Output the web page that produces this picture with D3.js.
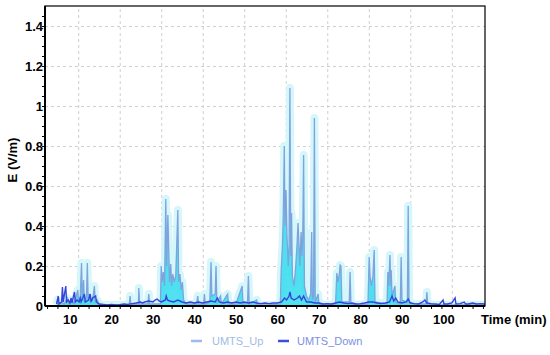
<!DOCTYPE html>
<html>
<head>
<meta charset="utf-8">
<script src="https://cdn.jsdelivr.net/npm/d3@7"></script>
<style>
  body { margin: 0; background: #fff; }
  text { font-family: Arial, "Liberation Sans", sans-serif; }
</style>
</head>
<body>
<div id="chart"></div>
<script>
// Chart data (time in min, field E in V/m)
var seriesNames = ["UMTS_Up", "UMTS_Down"];
var xTickValues = [10, 20, 30, 40, 50, 60, 70, 80, 90, 100];
var yTickValues = [0, 0.2, 0.4, 0.6, 0.8, 1, 1.2, 1.4];

var upData = [
  [4.8,0.01],[5.0,0.03],[5.3,0.01],[6.0,0.02],[6.6,0.01],[7.4,0.04],[7.8,0.01],[8.6,0.03],[9.0,0.01],
  [9.9,0.08],[10.1,0.02],[10.5,0.05],[10.8,0.215],[11.0,0.03],[11.3,0.13],[11.5,0.02],[12.0,0.05],
  [12.2,0.215],[12.4,0.03],[12.7,0.06],[13.0,0.02],[13.6,0.05],[13.9,0.1],[14.1,0.02],[14.6,0.03],[15.0,0.01],
  [16,0.005],[18,0.005],[20,0.005],[22.3,0.005],[22.5,0.05],[22.7,0.005],[24.5,0.01],[24.6,0.09],[24.8,0.01],
  [26.8,0.01],[27.0,0.06],[27.2,0.01],
  [29.8,0.01],[30.0,0.2],[30.2,0.12],[30.5,0.17],[30.8,0.1],[31.1,0.535],[31.3,0.2],[31.6,0.455],[31.8,0.29],
  [32.0,0.12],[32.3,0.21],[32.5,0.1],[32.8,0.16],[33.1,0.12],[33.5,0.15],[34.0,0.48],[34.2,0.12],[34.5,0.16],
  [34.8,0.08],[35.1,0.12],[35.4,0.03],[36,0.01],
  [38.5,0.01],[38.8,0.05],[39.0,0.01],[40.2,0.01],[40.4,0.06],[40.6,0.01],[41.7,0.02],[42.0,0.22],[42.2,0.05],
  [43.0,0.06],[43.2,0.2],[43.4,0.02],[44.3,0.05],[44.5,0.01],[46.0,0.06],[46.2,0.01],[48,0.01],[49.5,0.1],
  [49.7,0.01],[50.8,0.02],[51.0,0.15],[51.2,0.01],[53.0,0.03],[53.2,0.005],[56,0.005],
  [58.7,0.01],[58.9,0.18],[59.2,0.3],[59.4,0.45],[59.65,0.8],[59.8,0.4],[60.06,0.58],[60.3,0.35],[60.6,0.2],
  [60.8,0.3],[61.0,1.09],[61.2,0.25],[61.4,0.465],[61.6,0.15],[62.0,0.1],[62.4,0.2],[62.7,0.3],[62.95,0.415],
  [63.2,0.3],[63.4,0.2],[63.7,0.37],[63.9,0.25],[64.1,0.35],[64.3,0.755],[64.5,0.1],[65.0,0.05],[65.5,0.03],
  [66.0,0.06],[66.25,0.37],[66.4,0.03],[66.7,0.05],[66.9,0.94],[67.1,0.02],[67.8,0.06],[68.0,0.01],
  [70,0.005],[72.0,0.01],[72.3,0.165],[72.6,0.12],[72.9,0.16],[73.1,0.205],[73.3,0.2],[73.5,0.02],
  [75.3,0.02],[75.5,0.17],[75.7,0.01],[77,0.005],
  [79.8,0.01],[80.1,0.245],[80.3,0.15],[80.6,0.1],[81.0,0.15],[81.3,0.28],[81.5,0.02],
  [84.4,0.01],[84.6,0.17],[84.8,0.1],[85.1,0.255],[85.3,0.1],[85.4,0.18],[85.6,0.05],[86.0,0.08],[86.3,0.1],
  [86.5,0.02],[87.6,0.01],[87.8,0.245],[88.0,0.03],[89.3,0.02],[89.5,0.5],[89.7,0.02],[91,0.01],
  [93.8,0.01],[94.0,0.07],[94.2,0.01],[96,0.005],[100,0.005],[104,0.005],[108,0.005]
];

var downData = [
  [4.8,0.01],[5.2,0.05],[5.4,0.01],[6.0,0.02],[6.2,0.095],[6.4,0.02],[7.0,0.1],[7.2,0.02],[7.6,0.03],
  [8.0,0.015],[8.3,0.04],[8.5,0.015],[9.1,0.07],[9.3,0.02],[9.7,0.03],[10.2,0.02],[10.5,0.04],[10.7,0.02],
  [11.5,0.06],[11.7,0.02],[12.5,0.03],[12.9,0.06],[13.1,0.02],[13.5,0.04],[14.2,0.05],[14.4,0.02],[15,0.01],
  [16,0.008],[17,0.005],[18,0.008],[19,0.005],[20,0.006],[21,0.01],[22,0.008],[23,0.012],[24,0.015],
  [25,0.02],[25.5,0.015],[26,0.02],[27,0.025],[28,0.02],[28.5,0.03],[29,0.035],[29.5,0.025],[30,0.02],
  [30.5,0.025],[31,0.03],[31.2,0.05],[31.5,0.03],[32,0.025],[33,0.02],[34,0.03],[35,0.02],[36,0.015],
  [37,0.02],[38,0.015],[39,0.02],[40,0.015],[41,0.02],[42,0.025],[43,0.02],[43.5,0.04],[44,0.02],
  [45,0.015],[46,0.02],[47,0.015],[48,0.02],[49,0.015],[50,0.02],[51,0.015],[52,0.02],[53,0.015],
  [54,0.012],[55,0.015],[56,0.012],[57,0.015],[58,0.015],[59,0.02],[59.7,0.04],[60.2,0.03],[60.8,0.05],
  [61.0,0.07],[61.3,0.04],[62,0.03],[62.8,0.04],[63.3,0.05],[63.8,0.03],[64.3,0.05],[65,0.02],[66,0.02],
  [67,0.015],[68,0.015],[69,0.01],[70,0.012],[71,0.01],[72,0.015],[73,0.02],[74,0.015],[75,0.012],
  [76,0.015],[77,0.01],[78,0.012],[79,0.015],[80,0.02],[81,0.02],[82,0.015],[83,0.012],[84,0.015],
  [85,0.02],[85.6,0.05],[86,0.025],[86.5,0.04],[87,0.02],[88,0.015],[89,0.02],[89.5,0.035],[90,0.015],
  [91,0.012],[92,0.01],[93,0.02],[93.5,0.03],[94,0.015],[95,0.012],[96,0.01],[97,0.008],[97.9,0.03],
  [98.1,0.01],[99,0.01],[100,0.015],[100.8,0.04],[101,0.01],[102,0.012],[103,0.02],[103.3,0.01],
  [104,0.01],[105,0.015],[106,0.01],[107,0.012],[108,0.01]
];

// Building the chart area
var svgWidth = 550;
var svgHeight = 355;
var margin = { top: 6, right: 65, bottom: 49, left: 45 };
var width = svgWidth - margin.left - margin.right;
var height = svgHeight - margin.top - margin.bottom;

var svg = d3.select("#chart")
  .append("svg")
  .attr("width", svgWidth)
  .attr("height", svgHeight);

var chartGroup = svg.append("g")
  .attr("transform", `translate(${margin.left}, ${margin.top})`);

// Scales
var xScale = d3.scaleLinear().domain([2, 108]).range([0, width]);
var yScale = d3.scaleLinear().domain([0, 1.5]).range([height, 0]);

// Grid lines
chartGroup.append("g")
  .attr("transform", `translate(0, ${height})`)
  .call(d3.axisBottom(xScale).tickValues(xTickValues).tickSize(-height).tickFormat(""))
  .call(g => g.select(".domain").remove())
  .selectAll("line")
  .attr("stroke", "#cfcfcf")
  .attr("stroke-dasharray", "3,3");

chartGroup.append("g")
  .call(d3.axisLeft(yScale).tickValues(yTickValues.slice(1)).tickSize(-width).tickFormat(""))
  .call(g => g.select(".domain").remove())
  .selectAll("line")
  .attr("stroke", "#cfcfcf")
  .attr("stroke-dasharray", "3,3");

// Clip for the data
svg.append("defs").append("clipPath")
  .attr("id", "plotClip")
  .append("rect")
  .attr("width", width)
  .attr("height", height);

var plot = chartGroup.append("g").attr("clip-path", "url(#plotClip)");

var line = d3.line()
  .x(d => xScale(d[0]))
  .y(d => yScale(d[1]));

var area = d3.area()
  .x(d => xScale(d[0]))
  .y0(height)
  .y1(d => yScale(d[1]));

// UMTS_Up: pale halo, cyan fill, light line
plot.append("path")
  .datum(upData)
  .attr("d", line)
  .attr("fill", "none")
  .attr("stroke", "#d5f6fa")
  .attr("stroke-width", 8)
  .attr("stroke-linejoin", "round");

plot.append("path")
  .datum(upData)
  .attr("d", area)
  .attr("fill", "#34dcef")
  .attr("opacity", 0.85);

plot.append("path")
  .datum(upData)
  .attr("d", line)
  .attr("fill", "none")
  .attr("stroke", "#7ea4de")
  .attr("stroke-width", 1.3);

// UMTS_Down
plot.append("path")
  .datum(downData)
  .attr("d", line)
  .attr("fill", "none")
  .attr("stroke", "#3345dc")
  .attr("stroke-width", 1.4);

// Minor ticks
chartGroup.append("g")
  .attr("transform", `translate(0, ${height})`)
  .call(d3.axisBottom(xScale).tickValues(d3.range(2.5, 108, 2.5)).tickSize(3).tickFormat(""))
  .call(g => g.select(".domain").remove())
  .selectAll("line").attr("stroke", "#000");

chartGroup.append("g")
  .call(d3.axisLeft(yScale).tickValues(d3.range(0.05, 1.5, 0.05)).tickSize(3).tickFormat(""))
  .call(g => g.select(".domain").remove())
  .selectAll("line").attr("stroke", "#000");

// Frame
chartGroup.append("rect")
  .attr("width", width)
  .attr("height", height)
  .attr("fill", "none")
  .attr("stroke", "#000")
  .attr("stroke-width", 1.2);

chartGroup.append("line")
  .attr("x1", 0).attr("x2", width)
  .attr("y1", height).attr("y2", height)
  .attr("stroke", "#000").attr("stroke-width", 2);

chartGroup.append("line")
  .attr("x1", 0).attr("x2", 0)
  .attr("y1", 0).attr("y2", height)
  .attr("stroke", "#000").attr("stroke-width", 2);

// Tick labels
chartGroup.selectAll(".xLabel")
  .data(xTickValues)
  .enter()
  .append("text")
  .attr("class", "xLabel")
  .attr("x", d => xScale(d) - 8)
  .attr("y", height + 18)
  .attr("text-anchor", "middle")
  .attr("font-size", "13px")
  .attr("font-weight", "bold")
  .text(d => d);

chartGroup.selectAll(".yLabel")
  .data(yTickValues)
  .enter()
  .append("text")
  .attr("class", "yLabel")
  .attr("x", -2)
  .attr("y", d => yScale(d) + 5)
  .attr("text-anchor", "end")
  .attr("font-size", "13px")
  .attr("font-weight", "bold")
  .text(d => d);

// Axis titles
svg.append("text")
  .attr("transform", "translate(17, 160) rotate(-90)")
  .attr("text-anchor", "middle")
  .attr("font-size", "13px")
  .attr("font-weight", "bold")
  .text("E (V/m)");

svg.append("text")
  .attr("x", 481)
  .attr("y", 324)
  .attr("font-size", "13px")
  .attr("font-weight", "bold")
  .text("Time (min)");

// Legend
var legendLine = ["#9dbbea", "#3a4fe0"];
var legendText = ["#9fbbe6", "#7b92e0"];
var legendX = [191, 278];

var legend = svg.selectAll(".legendItem")
  .data(seriesNames)
  .enter()
  .append("g")
  .attr("class", "legendItem")
  .attr("transform", (d, i) => `translate(${legendX[i]}, 341)`);

legend.append("line")
  .attr("x1", 0).attr("x2", 11)
  .attr("stroke", (d, i) => legendLine[i])
  .attr("stroke-width", 2.5);

legend.append("text")
  .attr("x", (d, i) => i === 0 ? 21 : 19)
  .attr("y", 4)
  .attr("font-size", "11px")
  .attr("fill", (d, i) => legendText[i])
  .text(d => d);
</script>
</body>
</html>
